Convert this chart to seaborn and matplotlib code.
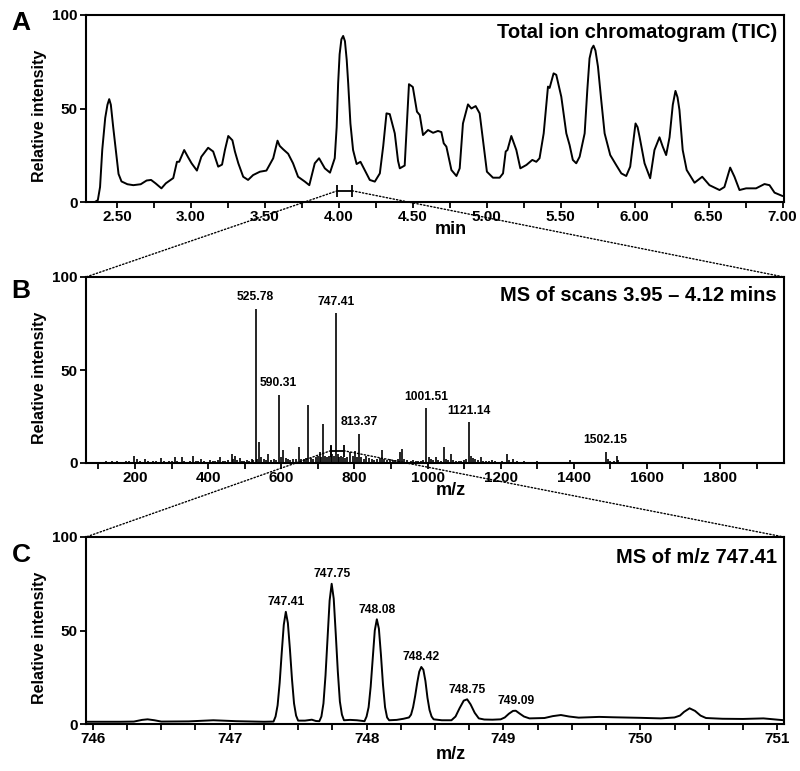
import numpy as np
import pandas as pd
import matplotlib
matplotlib.use("Agg")
import matplotlib.pyplot as plt
import seaborn as sns
from matplotlib.patches import ConnectionPatch
from matplotlib.ticker import MultipleLocator

# ---------------- Panel A: total ion chromatogram ----------------
tic_time = [2.29, 2.35, 2.37, 2.385, 2.40, 2.42, 2.435, 2.447, 2.458, 2.474, 2.497, 2.51, 2.53,
            2.57, 2.61, 2.66, 2.70, 2.73, 2.76, 2.80, 2.83, 2.88, 2.905, 2.92, 2.954, 2.98,
            3.004, 3.04, 3.07, 3.116, 3.15, 3.184, 3.21, 3.23, 3.252, 3.28, 3.297, 3.32,
            3.353, 3.386, 3.42, 3.466, 3.51, 3.556, 3.585, 3.60, 3.623, 3.657, 3.69, 3.724,
            3.77, 3.80, 3.837, 3.866, 3.905, 3.94, 3.972, 3.985, 3.995, 4.005, 4.017, 4.029,
            4.041, 4.053, 4.063, 4.078,
            4.096, 4.12, 4.146, 4.175, 4.209, 4.243, 4.277, 4.30, 4.322, 4.344, 4.378, 4.40,
            4.412, 4.445, 4.462, 4.474, 4.50, 4.528, 4.547, 4.569, 4.603, 4.637, 4.67, 4.693, 4.709,
            4.727, 4.761, 4.795, 4.817, 4.839, 4.873, 4.896, 4.925, 4.952, 4.974, 5.001,
            5.042, 5.087, 5.11, 5.128, 5.14, 5.166, 5.20, 5.227, 5.268, 5.308, 5.335, 5.357,
            5.385, 5.414, 5.425, 5.452, 5.47, 5.504, 5.538, 5.56, 5.582, 5.605, 5.628, 5.662,
            5.68, 5.695, 5.71, 5.722, 5.735, 5.752, 5.774, 5.797, 5.835, 5.875, 5.91, 5.943, 5.97,
            5.99, 6.006, 6.02, 6.033, 6.067, 6.105, 6.134, 6.168, 6.19, 6.213, 6.236, 6.258,
            6.276, 6.29, 6.303, 6.325,
            6.352, 6.405, 6.457, 6.506, 6.574, 6.607, 6.633, 6.646, 6.66, 6.675, 6.709, 6.754, 6.821,
            6.878, 6.912, 6.946, 7.0]
tic_int = [0, 0, 1, 8, 28, 45, 52, 55, 52, 40, 24, 15, 11,
           9.5, 9, 9.5, 11.5, 11.8, 10, 7.3, 10, 12.8, 21.5, 21.5, 27.8, 24,
           20.7, 16.8, 24.2, 29, 27, 18.9, 20, 28, 35.3, 33, 27, 20.7,
           13.5, 11.8, 14.4, 16.2, 16.8, 23.4, 32.8, 30, 28.2, 25.8, 20.7, 13.5,
           10.9, 9, 20.7, 23.4, 18, 15.7, 23.4, 40, 63.5, 79, 87, 88.8,
           86, 76, 63.5, 42,
           27.8, 20.3, 21.5, 17, 11.8, 10.9, 15.3, 30, 47.4, 47, 36.7, 22,
           18, 19.5, 45, 63, 61.5, 48.3, 46.5, 35.8, 38.5, 37, 38, 37.4, 31.4,
           29.6, 17.1, 13.9, 18, 42, 52.2, 50, 51.3, 47.4, 33.2, 16.2,
           13, 13, 15.3, 27, 27.8, 35.3, 27.8, 18, 19.8, 22.5, 21.5, 23.4,
           36.7, 61.7, 61, 68.8, 68, 56.3, 36.7, 30.5, 22.5, 20.7, 24.2, 36.7,
           60, 76.8, 82, 83.6, 81, 72.4, 54.5, 36.7, 25.1, 19.8, 15.3, 13.9, 18.9,
           32, 42, 40, 35, 20.7, 12.7, 27.8, 34.6, 29.6, 25.1, 34.6, 52,
           59.4, 56, 49.2, 27.8,
           17.1, 10.3, 13.5, 9, 6.4, 8, 15, 18.4, 16, 13.5, 6.4, 7.3, 7.3,
           9.6, 9, 5, 3.2]
tic_window = [3.99, 4.09]      # scan window shown in panel B (min)
tic_window_level = 6.0

# ---------------- Panel B: MS of scans 3.95-4.12 min ----------------
ms_mz = [100, 110, 122, 130, 137, 145, 152, 160, 168, 175, 183, 190, 198, 205, 213, 220, 227,
         235, 243, 250, 258, 270, 278, 285, 292, 300, 309, 316, 328, 335, 343, 350, 358, 366,
         373, 380, 388, 395, 405, 412, 420, 426, 432, 440, 447, 455, 464, 469, 474, 480, 487,
         493, 499, 505, 512, 519, 524,
         530, 535, 540, 545, 552, 558, 565, 572, 580, 586, 593, 598, 606, 612, 618, 625, 632,
         640, 649, 655, 662, 668, 674, 680, 688, 694, 700, 706, 710, 715, 720, 725, 730, 735,
         740, 744, 749, 754, 758, 763, 768, 774, 780, 788, 795, 802, 808, 812, 818, 825, 832,
         840, 848, 855, 862, 869, 875, 882, 890, 897, 905, 912, 920, 926, 930, 936, 945, 955,
         961, 968, 975, 982, 989, 996, 1003, 1010, 1016, 1023, 1030, 1037, 1044, 1050, 1057,
         1064, 1070, 1078, 1085, 1092, 1100, 1106, 1113, 1118, 1124, 1130, 1138, 1146, 1153,
         1160, 1168, 1176, 1185, 1195, 1205, 1217, 1224, 1235, 1245, 1255, 1265, 1280, 1299,
         1315, 1330, 1345, 1360, 1375, 1390, 1400, 1415, 1430, 1445, 1460, 1475, 1487, 1493,
         1500, 1510, 1517, 1522, 1535, 1550, 1570, 1590, 1608, 1630, 1660, 1700, 1750, 1800,
         1850, 1900, 1950]
ms_int = [0.8, 0.6, 1.2, 0.8, 1.0, 0.7, 1.0, 0.8, 0.7, 1.0, 1.2, 0.8, 3.8, 2.0, 1.0, 0.8, 2.0,
          1.0, 0.8, 1.2, 1.0, 2.7, 1.0, 0.8, 1.0, 1.2, 3.0, 1.0, 3.0, 1.0, 0.8, 1.0, 3.5, 0.9,
          1.2, 2.0, 1.0, 0.8, 1.5, 1.2, 1.0, 1.4, 3.0, 1.0, 1.3, 1.5, 4.6, 2.0, 3.5, 1.5, 2.5,
          1.2, 1.0, 1.5, 1.2, 2.0, 1.5,
          82.8, 2, 11.5, 3, 2, 1.5, 5, 1.5, 2, 1.5, 36.6, 3, 7, 2.5, 2, 1.5, 2,
          2, 8.8, 2, 2, 2.5, 31, 2.5, 2, 3, 4, 6, 3, 21, 4, 3, 4, 9,
          5, 4, 80.6, 5, 3, 4, 3, 2.5, 3, 6, 4, 6.5, 3, 15.6, 3, 2, 3.5,
          2.5, 2, 1.5, 2, 2.5, 7, 2, 1.5, 2, 1.5, 1.5, 2, 6, 7.5, 2, 1.5, 1.2,
          1.5, 1, 1.2, 1, 1.5, 29.5, 3, 2, 1.5, 3.4, 1.5, 1.2, 8.8, 2, 1.5,
          4.8, 1.5, 1.2, 1, 1.2, 1.5, 2, 22, 4, 2.5, 2, 1.5, 3, 1.2,
          1, 1, 1.5, 1, 0.8, 1, 4.6, 1.5, 2, 1, 0.8, 1, 0.8, 1,
          0.7, 0.8, 0.6, 0.7, 0.8, 1.8, 0.8, 0.6, 0.7, 0.6, 0.7, 0.8, 6, 2,
          1, 1, 3.7, 1.5, 0.8, 0.6, 0.5, 0.6, 0.8, 0.5, 0.4, 0.4, 0.4, 0.4,
          0.3, 0.3, 0.3]
ms_label_mz = [530, 593, 749, 812, 996, 1113, 1487]
ms_label_text = ["525.78", "590.31", "747.41", "813.37", "1001.51", "1121.14", "1502.15"]
ms_window = [735, 771]          # isolation window shown in panel C (m/z)
ms_window_level = 6.6

# ---------------- Panel C: MS of m/z 747.41 ----------------
zoom_mz = [745.95, 746.20, 746.30, 746.36, 746.40, 746.45, 746.50, 746.70, 746.88, 747.05, 747.25,
           747.32, 747.335, 747.35, 747.365, 747.38, 747.395, 747.41, 747.425, 747.44, 747.455,
           747.47, 747.485, 747.50, 747.55, 747.60, 747.63,
           747.655, 747.67, 747.685, 747.70, 747.715, 747.73, 747.745, 747.76, 747.775, 747.79,
           747.805, 747.82, 747.835, 747.88, 747.93,
           747.985, 748.00, 748.015, 748.03, 748.045, 748.06, 748.075, 748.09, 748.105, 748.12,
           748.135, 748.15, 748.165, 748.22, 748.27,
           748.31, 748.325, 748.34, 748.355, 748.37, 748.385, 748.40, 748.415, 748.43, 748.445,
           748.46, 748.475, 748.49, 748.55,
           748.62, 748.65, 748.68, 748.71, 748.735, 748.76, 748.79, 748.82, 748.86, 748.92,
           748.98, 749.01, 749.04, 749.07, 749.09, 749.12, 749.15, 749.19,
           749.30, 749.36, 749.42, 749.48, 749.55, 749.70, 749.80, 750.00, 750.15,
           750.25, 750.29, 750.32, 750.36, 750.40, 750.44, 750.48,
           750.60, 750.75, 750.90, 751.05]
zoom_int = [1.2, 1.2, 1.3, 2.2, 2.5, 2.0, 1.3, 1.4, 2.0, 1.5, 1.2,
            1.3, 4, 10, 22, 38, 53, 60, 54, 40, 24,
            11, 4.5, 1.8, 1.8, 2.3, 1.6,
            1.5, 4, 11, 26, 46, 66, 75, 67, 48, 28,
            12, 5, 2, 2.2, 2.0,
            1.5, 4, 9, 20, 35, 50, 56, 51, 37, 21,
            9, 3.5, 2, 2.2, 2.8,
            3.5, 5, 9, 15, 22, 28, 30.5, 29, 23, 14,
            7.5, 4, 2.5, 2.0,
            2, 4, 8.5, 12.5, 13.2, 10.5, 6, 3, 2.4, 2.3,
            2.5, 3.5, 5.5, 7, 7.1, 5.5, 4, 3,
            3.2, 4.2, 4.8, 4, 3.4, 3.8, 3.6, 3.3, 3.0,
            3.5, 4.5, 6.5, 8.4, 7, 4.5, 3.2,
            2.8, 2.7, 3, 2]
zoom_label_text = ["747.41", "747.75", "748.08", "748.42", "748.75", "749.09"]

# ---------------- style ----------------
sns.set_theme(style="ticks")
plt.rcParams.update({
    "font.family": ["Liberation Sans", "DejaVu Sans"],
    "font.weight": "bold",
    "axes.labelweight": "bold",
    "axes.edgecolor": "black",
    "axes.linewidth": 1.5,
    "text.color": "black",
    "axes.labelcolor": "black",
    "xtick.color": "black",
    "ytick.color": "black",
    "xtick.labelsize": 11,
    "ytick.labelsize": 11,
    "axes.labelsize": 12,
})

fig = plt.figure(figsize=(8, 7.71), dpi=100)
W, H = 800, 771


def add_ax(top, bottom, left=86, right=784):
    return fig.add_axes([left / W, 1 - bottom / H, (right - left) / W, (bottom - top) / H])


axA = add_ax(15, 202)
axB = add_ax(277, 463)
axC = add_ax(537, 724)

lw = 1.4
dfA = pd.DataFrame({"t": tic_time, "i": tic_int})
sns.lineplot(data=dfA, x="t", y="i", ax=axA, color="black", lw=lw, estimator=None, sort=False)
axA.set_xlim(2.29, 7.01)
axA.xaxis.set_major_locator(MultipleLocator(0.5))
axA.xaxis.set_minor_locator(MultipleLocator(0.25))
axA.xaxis.set_major_formatter(matplotlib.ticker.FormatStrFormatter("%.2f"))

axB.vlines(ms_mz, 0, ms_int, color="black", lw=1.2)
axB.set_xlim(66, 1975)
axB.xaxis.set_major_locator(MultipleLocator(200))
axB.xaxis.set_minor_locator(MultipleLocator(100))

dfC = pd.DataFrame({"mz": zoom_mz, "i": zoom_int})
sns.lineplot(data=dfC, x="mz", y="i", ax=axC, color="black", lw=lw, estimator=None, sort=False)
axC.set_xlim(745.95, 751.05)
axC.xaxis.set_major_locator(MultipleLocator(1))
axC.xaxis.set_minor_locator(MultipleLocator(0.25))

for ax, xl in ((axA, "min"), (axB, "m/z"), (axC, "m/z")):
    ax.set_ylim(0, 100)
    ax.set_yticks([0, 50, 100])
    ax.set_ylabel("Relative intensity", fontsize=11.5)
    ax.yaxis.set_label_coords(-0.056, 0.46)
    ax.set_xlabel(xl, fontsize=13)
    ax.tick_params(which="both", direction="out", length=4.5, width=1.3, pad=1.5)
    for s in ax.spines.values():
        s.set_visible(True)
        s.set_linewidth(1.5)
axA.xaxis.set_label_coords(0.523, -0.10)
axB.xaxis.set_label_coords(0.523, -0.10)
axC.xaxis.set_label_coords(0.523, -0.12)

# titles
axA.text(0.99, 0.905, "Total ion chromatogram (TIC)", transform=axA.transAxes,
         ha="right", va="center", fontsize=14.5)
axB.text(0.99, 0.898, "MS of scans 3.95 \u2013 4.12 mins", transform=axB.transAxes,
         ha="right", va="center", fontsize=14.5)
axC.text(0.99, 0.893, "MS of m/z 747.41", transform=axC.transAxes,
         ha="right", va="center", fontsize=14.5)

# panel letters
for y, letter in ((23, "A"), (291, "B"), (555, "C")):
    fig.text(21 / W, 1 - y / H, letter, ha="center", va="center", fontsize=19, weight="bold")

# peak labels panel B
lookup = dict(zip(ms_mz, ms_int))
for mz, txt in zip(ms_label_mz, ms_label_text):
    axB.annotate(txt, (mz, lookup[mz]), xytext=(0, 4), textcoords="offset points",
                 ha="center", va="bottom", fontsize=8.7)

# peak labels panel C (placed at local maxima of the profile)
zmz = np.array(zoom_mz)
zin = np.array(zoom_int)
for txt in zoom_label_text:
    target = float(txt)
    m = np.abs(zmz - target) < 0.06
    k = np.argmax(np.where(m, zin, -1))
    axC.annotate(txt, (zmz[k], zin[k]), xytext=(0, 2.5), textcoords="offset points",
                 ha="center", va="bottom", fontsize=8.7)

# window brackets
for ax, win, lev in ((axA, tic_window, tic_window_level), (axB, ms_window, ms_window_level)):
    ax.errorbar([(win[0] + win[1]) / 2], [lev], xerr=[(win[1] - win[0]) / 2],
                fmt="none", ecolor="black", elinewidth=1.3, capsize=4, capthick=1.3)

# dotted zoom lines
def connect(axa, xya, axb, xyb):
    con = ConnectionPatch(xyA=xya, coordsA=axa.transData, xyB=xyb, coordsB=axb.transAxes,
                          linestyle=(0, (1, 1.5)), lw=1.0, color="black", zorder=10)
    fig.add_artist(con)

connect(axA, (tic_window[0], tic_window_level), axB, (0, 1))
connect(axA, (tic_window[1], tic_window_level), axB, (1, 1))
connect(axB, (ms_window[0], ms_window_level), axC, (0, 1))
connect(axB, (ms_window[1], ms_window_level), axC, (1, 1))

fig.savefig("out.png", dpi=100)
